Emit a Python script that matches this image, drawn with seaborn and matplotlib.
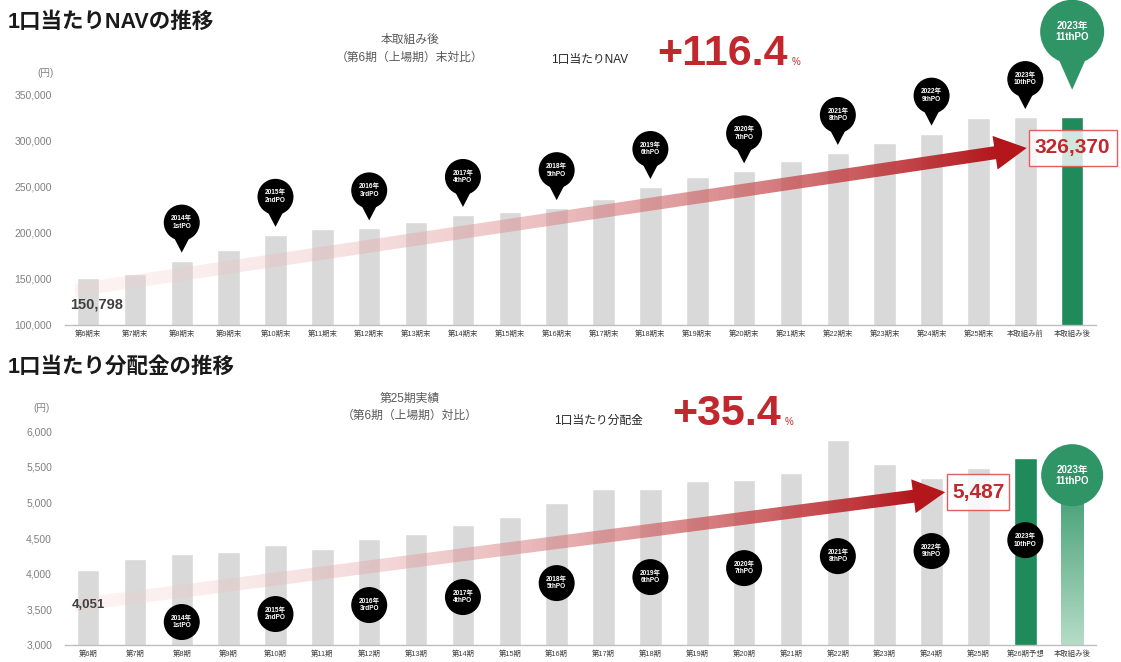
import numpy as np
import pandas as pd
import matplotlib
matplotlib.use("Agg")
import matplotlib.pyplot as plt
import seaborn as sns
from matplotlib.patches import Circle, Polygon, Rectangle
from matplotlib.colors import to_rgba

# ---------------- data ----------------
nav_periods = ["第6期末", "第7期末", "第8期末", "第9期末", "第10期末", "第11期末", "第12期末",
               "第13期末", "第14期末", "第15期末", "第16期末", "第17期末", "第18期末", "第19期末",
               "第20期末", "第21期末", "第22期末", "第23期末", "第24期末", "第25期末",
               "本取組み前", "本取組み後"]
nav_values = [150798, 155400, 170000, 181500, 198000, 204000, 205000, 212000, 219600, 223000,
              227000, 237000, 250000, 261000, 267000, 278000, 287000, 298000, 308000, 325000,
              326000, 326370]

dist_periods = ["第6期", "第7期", "第8期", "第9期", "第10期", "第11期", "第12期", "第13期",
                "第14期", "第15期", "第16期", "第17期", "第18期", "第19期", "第20期", "第21期",
                "第22期", "第23期", "第24期", "第25期", "第26期予想", "本取組み後"]
dist_values = [4051, 4204, 4274, 4300, 4400, 4345, 4485, 4555, 4680, 4790, 4990, 5185, 5185,
               5300, 5310, 5410, 5870, 5535, 5340, 5487, 5620, 5600]

nav_yticks = [100000, 150000, 200000, 250000, 300000, 350000]
dist_yticks = [3000, 3500, 4000, 4500, 5000, 5500, 6000]

ipo_labels = ["2014年\n1stPO", "2015年\n2ndPO", "2016年\n3rdPO", "2017年\n4thPO", "2018年\n5thPO",
              "2019年\n6thPO", "2020年\n7thPO", "2021年\n8thPO", "2022年\n9thPO", "2023年\n10thPO"]
ipo_bar_index = [2, 4, 6, 8, 10, 12, 14, 16, 18, 20]
final_ipo_label = "2023年\n11thPO"
final_ipo_index = 21

nav_first_label = "150,798"
nav_last_label = "326,370"
dist_first_label = "4,051"
dist_last_label = "5,487"
nav_growth = "+116.4"
dist_growth = "+35.4"

# ---------------- layout / style ----------------
W, H = 1121, 662
GRAY = "#d9d9d9"
GREEN = "#1f8a5a"
GREEN_B = "#2f9466"
RED = "#c0282d"
DARK_RED = "#b3161b"

# bottom bubbles placed along a line below the arrow (data units of lower chart)
dist_bubble_y = [3322, 3434, 3560, 3672, 3868, 3952, 4078, 4246, 4317, 4470]
dist_final_bubble_y = 5381

sns.set_theme(style="white")
plt.rcParams["font.family"] = ["Liberation Sans", "Noto Sans CJK JP", "DejaVu Sans"]

fig = plt.figure(figsize=(W / 100, H / 100), dpi=100)
fig.patch.set_facecolor("white")


def fx(x):
    return x / W


def fy(y):
    return 1 - y / H


def make_axes(top_px, bottom_px):
    return fig.add_axes([fx(64.6), fy(bottom_px), 1031 / W, (bottom_px - top_px) / H])


ax1 = make_axes(95, 325)
ax2 = make_axes(431, 645)

df1 = pd.DataFrame({"period": nav_periods, "value": nav_values})
df2 = pd.DataFrame({"period": dist_periods, "value": dist_values})
pal1 = [GRAY] * (len(nav_periods) - 1) + [GREEN]
pal2 = [GRAY] * (len(dist_periods) - 2) + [GREEN, GREEN]

sns.barplot(data=df1, x="period", y="value", hue="period", palette=pal1, legend=False,
            width=0.48, saturation=1, ax=ax1)
sns.barplot(data=df2, x="period", y="value", hue="period", palette=pal2, legend=False,
            width=0.48, saturation=1, ax=ax2)

for ax, ticks, lims in [(ax1, nav_yticks, (100000, 350000)), (ax2, dist_yticks, (3000, 6000))]:
    ax.set_xlim(-0.5, len(nav_periods) - 0.5)
    ax.set_ylim(*lims)
    ax.set_xlabel("")
    ax.set_ylabel("")
    ax.set_yticks(ticks)
    ax.set_yticklabels([f"{t:,}" for t in ticks])
    sns.despine(ax=ax, left=True)
    ax.spines["bottom"].set_color("#bfbfbf")
    ax.spines["bottom"].set_linewidth(1)
    ax.tick_params(axis="y", length=0, labelsize=7.5, labelcolor="#808080", pad=9)
    ax.tick_params(axis="x", length=0, labelsize=5.3, labelcolor="#404040", pad=4)
    ax.patch.set_alpha(0)

# gradient on last lower bar
last_bar = ax2.patches[len(dist_periods) - 1]
last_bar.set_facecolor("none")
bx0 = last_bar.get_x()
bx1 = bx0 + last_bar.get_width()
grad = np.zeros((100, 1, 4))
ctop = np.array(to_rgba("#2f9466"))
cbot = np.array(to_rgba("#b5dcc7"))
for i in range(100):
    t = i / 99
    grad[i, 0] = ctop * (1 - t) + cbot * t
im = ax2.imshow(grad, extent=(bx0, bx1, 3000, dist_values[-1]), aspect="auto",
                interpolation="bilinear", zorder=2)
im.set_clip_path(last_bar)
ax2.set_xlim(-0.5, len(nav_periods) - 0.5)
ax2.set_ylim(3000, 6000)

# overlay in pixel coordinates
ov = fig.add_axes([0, 0, 1, 1], zorder=5)
ov.set_xlim(0, W)
ov.set_ylim(0, H)
ov.axis("off")
ov.patch.set_alpha(0)


def px(ax, x, y):
    return ov.transData.inverted().transform(ax.transData.transform((x, y)))


def grad_arrow(p0, p1, shaft_hw=6.5, head_hw=17, head_len=32):
    p0, p1 = np.array(p0, float), np.array(p1, float)
    d = p1 - p0
    u = d / np.hypot(*d)
    nrm = np.array([-u[1], u[0]])
    base = p1 - u * head_len
    shaft = Polygon([p0 + nrm * shaft_hw, base + nrm * shaft_hw + u * 2,
                     base - nrm * shaft_hw + u * 2, p0 - nrm * shaft_hw],
                    closed=True, facecolor="none", edgecolor="none")
    ov.add_patch(shaft)
    n = 300
    g = np.zeros((1, n, 4))
    c0 = np.array(to_rgba("#f6d0d0"))
    c0[3] = 0.25
    c1 = np.array(to_rgba(DARK_RED))
    for k in range(n):
        t = (k / (n - 1)) ** 1.4
        g[0, k] = c0 * (1 - t) + c1 * t
    ys = [p0[1], base[1]]
    im = ov.imshow(g, extent=(p0[0], base[0] + 3, min(ys) - 20, max(ys) + 20),
                   aspect="auto", interpolation="bilinear", zorder=3)
    im.set_clip_path(shaft)
    ov.add_patch(Polygon([base + nrm * head_hw, p1, base - nrm * head_hw],
                         closed=True, facecolor=DARK_RED, edgecolor="none", zorder=3))
    ov.set_xlim(0, W)
    ov.set_ylim(0, H)


def value_box(tip, text, width, height=36):
    x0 = tip[0] + 2
    y0 = tip[1] - height / 2
    ov.add_patch(Rectangle((x0, y0), width, height, facecolor=(1, 1, 1, 0.8),
                           edgecolor="#e06060", linewidth=1.0, zorder=6))
    ov.text(x0 + width / 2, tip[1], text, ha="center", va="center", color=RED,
            fontsize=15, fontweight="bold", zorder=7)


def pin(cx, cy, r, tip_y, color, label, fs):
    ov.add_patch(Polygon([(cx - r * 0.45, cy - r * 0.8), (cx + r * 0.45, cy - r * 0.8),
                          (cx, tip_y)], closed=True, facecolor=color, edgecolor="none", zorder=8))
    ov.add_patch(Circle((cx, cy), r, facecolor=color, edgecolor="none", zorder=8))
    ov.text(cx, cy, label, ha="center", va="center", color="white", fontsize=fs,
            fontweight="bold", linespacing=1.15, zorder=9)


def bubble(cx, cy, r, color, label, fs):
    ov.add_patch(Circle((cx, cy), r, facecolor=color, edgecolor="none", zorder=8))
    ov.text(cx, cy, label, ha="center", va="center", color="white", fontsize=fs,
            fontweight="bold", linespacing=1.15, zorder=9)


# ---- upper chart annotations ----
a0 = px(ax1, -0.28, 137800)
a1 = px(ax1, 20.03, 292400)
grad_arrow(a0, a1)
value_box(a1, nav_last_label, 88)

for lab, idx in zip(ipo_labels, ipo_bar_index):
    cx, top = px(ax1, idx, nav_values[idx])
    tip = top + 8
    pin(cx, tip + 30, 18, tip, "black", lab, 4.7)
cx, top = px(ax1, final_ipo_index, nav_values[final_ipo_index])
pin(cx, top + 85, 32, top + 27, GREEN_B, final_ipo_label, 7)

fx0, fy0 = px(ax1, 0, 122000)
ov.text(fx0 + 9, fy0, nav_first_label, ha="center", va="center", color="#404040",
        fontsize=10.5, fontweight="bold", zorder=7)

# ---- lower chart annotations ----
b0 = px(ax2, -0.28, 3560)
b1 = px(ax2, 18.29, 5143)
grad_arrow(b0, b1)
value_box(b1, dist_last_label, 62)

for lab, idx, by in zip(ipo_labels, ipo_bar_index, dist_bubble_y):
    cx, cy = px(ax2, idx, by)
    bubble(cx, cy, 18, "black", lab, 4.7)
cx, cy = px(ax2, final_ipo_index, dist_final_bubble_y)
bubble(cx, cy, 31, GREEN_B, final_ipo_label, 7)

gx, gy = px(ax2, 0, 3560)
ov.text(gx, gy, dist_first_label, ha="center", va="center", color="#404040",
        fontsize=9.5, fontweight="bold", zorder=7)

# ---------------- headings ----------------
fig.text(fx(8), fy(22), "1口当たりNAVの推移", ha="left", va="center", fontsize=15.5,
         fontweight="bold", color="#1a1a1a")
fig.text(fx(410), fy(40), "本取組み後", ha="center", va="center", fontsize=8.5, color="#595959")
fig.text(fx(410), fy(58), "（第6期（上場期）末対比）", ha="center", va="center", fontsize=8.5,
         color="#595959")
fig.text(fx(590), fy(60), "1口当たりNAV", ha="center", va="center", fontsize=8.5, color="#262626")
fig.text(fx(657), fy(54), nav_growth, ha="left", va="center", fontsize=31, fontweight="bold",
         color=RED)
fig.text(fx(792), fy(62), "%", ha="left", va="center", fontsize=7, color=RED)
fig.text(fx(45), fy(73), "(円)", ha="center", va="center", fontsize=7, color="#808080")

fig.text(fx(8), fy(367), "1口当たり分配金の推移", ha="left", va="center", fontsize=15.5,
         fontweight="bold", color="#1a1a1a")
fig.text(fx(410), fy(399), "第25期実績", ha="center", va="center", fontsize=8.5, color="#595959")
fig.text(fx(410), fy(416), "（第6期（上場期）対比）", ha="center", va="center", fontsize=8.5,
         color="#595959")
fig.text(fx(598), fy(421), "1口当たり分配金", ha="center", va="center", fontsize=8.5,
         color="#262626")
fig.text(fx(672), fy(414), dist_growth, ha="left", va="center", fontsize=31, fontweight="bold",
         color=RED)
fig.text(fx(785), fy(422), "%", ha="left", va="center", fontsize=7, color=RED)
fig.text(fx(42), fy(408), "(円)", ha="center", va="center", fontsize=7, color="#808080")

fig.savefig("out.png", dpi=100, facecolor="white")
